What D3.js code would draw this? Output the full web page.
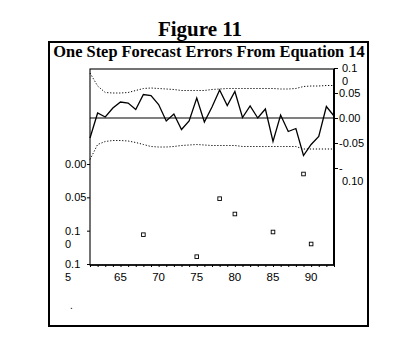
<!DOCTYPE html>
<html>
<head>
<meta charset="utf-8">
<script src="https://cdn.jsdelivr.net/npm/d3@7/dist/d3.min.js"></script>
<style>
  html, body { margin: 0; padding: 0; background: #fff; }
  svg { display: block; }
</style>
</head>
<body>
<svg id="chart" width="409" height="359"></svg>
<script>
// ---------------- data ----------------
const years = [61,62,63,64,65,66,67,68,69,70,71,72,73,74,75,76,77,78,79,80,81,82,83,84,85,86,87,88,89,90,91,92,93];
const residuals = [-0.040,0.010,0.002,0.020,0.032,0.030,0.017,0.047,0.045,0.027,-0.006,0.008,-0.023,-0.006,0.040,-0.008,0.022,0.056,0.025,0.053,0.001,0.024,0.000,0.018,-0.047,0.006,-0.027,-0.021,-0.075,-0.053,-0.037,0.023,0.004];
const upperBand = [0.090,0.064,0.051,0.050,0.050,0.051,0.055,0.059,0.060,0.059,0.058,0.057,0.055,0.055,0.055,0.055,0.057,0.058,0.059,0.059,0.059,0.059,0.059,0.059,0.059,0.058,0.058,0.059,0.063,0.064,0.064,0.065,0.065];
const lowerBand = [-0.083,-0.053,-0.047,-0.045,-0.045,-0.046,-0.049,-0.053,-0.057,-0.058,-0.058,-0.057,-0.055,-0.054,-0.053,-0.054,-0.055,-0.055,-0.055,-0.055,-0.057,-0.057,-0.057,-0.057,-0.057,-0.057,-0.057,-0.057,-0.062,-0.062,-0.062,-0.062,-0.062];
const probYears = [68,75,78,80,85,89,90];
const probValues = [0.106,0.139,0.052,0.075,0.102,0.015,0.120];
const xTicks = [65,70,75,80,85,90];
const rightTicks = [0.10,0.05,0.00,-0.05,-0.10];
const rightTickLabels = [["0.1","0"],["0.05"],["0.00"],["-0.05"],["-","0.10"]];
const leftTicks = [0.00,0.05,0.10,0.15];
const leftTickLabels = [["0.00"],["0.05"],["0.1","0"],["0.1","5"]];
const figureTitle = "Figure 11";
const chartTitle = "One Step Forecast Errors From Equation 14";

// ---------------- layout ----------------
const svg = d3.select("#chart");
const plot = {left: 90, right: 334, top: 69, bottom: 265};
const x = d3.scaleLinear().domain([61, 93]).range([plot.left, plot.right]);
const yRes = d3.scaleLinear().domain([0.10, -0.10]).range([68, 168]);
const yProb = d3.scaleLinear().domain([0, 0.15]).range([164, 264]);

const serif = "'Liberation Serif', 'Times New Roman', serif";
const sans = "'Liberation Sans', Arial, sans-serif";

// figure title
svg.append("text").attr("x", 200).attr("y", 36)
  .attr("text-anchor", "middle").attr("font-family", serif)
  .attr("font-weight", "bold").attr("font-size", 21).attr("fill", "#000")
  .text(figureTitle);

// outer box
svg.append("rect").attr("x", 49).attr("y", 42).attr("width", 319).attr("height", 284)
  .attr("fill", "none").attr("stroke", "#000").attr("stroke-width", 2);

// chart title
svg.append("text").attr("x", 209).attr("y", 57)
  .attr("text-anchor", "middle").attr("font-family", serif)
  .attr("font-weight", "bold").attr("font-size", 16.4).attr("fill", "#000")
  .text(chartTitle);

// plot frame
svg.append("rect").attr("x", plot.left).attr("y", plot.top)
  .attr("width", plot.right - plot.left).attr("height", plot.bottom - plot.top)
  .attr("fill", "none").attr("stroke", "#000").attr("stroke-width", 1.1);
svg.append("line").attr("x1", plot.right).attr("x2", plot.right)
  .attr("y1", plot.top).attr("y2", plot.bottom)
  .attr("stroke", "#000").attr("stroke-width", 2);
svg.append("line").attr("x1", plot.left).attr("x2", plot.right)
  .attr("y1", plot.bottom).attr("y2", plot.bottom)
  .attr("stroke", "#000").attr("stroke-width", 1.6);

// x axis
const xAxis = d3.axisBottom(x).tickValues(d3.range(61, 94)).tickSize(2).tickFormat("");
const gx = svg.append("g").attr("transform", `translate(0,${plot.bottom})`).call(xAxis);
gx.select(".domain").remove();
gx.selectAll("line").attr("stroke", "#000");
svg.append("g").selectAll("text").data(xTicks).join("text")
  .attr("x", d => x(d)).attr("y", 281)
  .attr("text-anchor", "middle").attr("font-family", sans).attr("font-size", 11.5)
  .attr("fill", "#000").text(d => d);

// right axis (residuals)
const rAxis = d3.axisRight(yRes).tickValues(rightTicks).tickSize(4).tickFormat("");
const gr = svg.append("g").attr("transform", `translate(${plot.right},0)`).call(rAxis);
gr.select(".domain").remove();
gr.selectAll("line").attr("stroke", "#000");
const rLab = svg.append("g").attr("font-family", sans).attr("font-size", 11).attr("fill", "#000");
rightTicks.forEach((t, i) => {
  const lines = rightTickLabels[i];
  const tx = rLab.append("text").attr("y", yRes(t)).attr("dy", "0.35em");
  lines.forEach((s, j) => {
    tx.append("tspan").attr("x", lines.length > 1 && j === 0 && s === "-" ? 339 : (lines.length > 1 ? 342 : 339))
      .attr("dy", j === 0 ? null : "1.15em").text(s);
  });
});

// left axis (probabilities)
const lAxis = d3.axisLeft(yProb).tickValues(leftTicks).tickSize(3).tickFormat("");
const gl = svg.append("g").attr("transform", `translate(${plot.left},0)`).call(lAxis);
gl.select(".domain").remove();
gl.selectAll("line").attr("stroke", "#000");
const lLab = svg.append("g").attr("font-family", sans).attr("font-size", 11).attr("fill", "#000");
leftTicks.forEach((t, i) => {
  const lines = leftTickLabels[i];
  const tx = lLab.append("text").attr("y", yProb(t)).attr("dy", "0.35em");
  lines.forEach((s, j) => {
    tx.append("tspan").attr("x", 65).attr("dy", j === 0 ? null : "1.2em").text(s);
  });
});

// zero line
svg.append("line").attr("x1", plot.left).attr("x2", plot.right)
  .attr("y1", yRes(0)).attr("y2", yRes(0))
  .attr("stroke", "#000").attr("stroke-width", 1.2);

// bands
const bandLine = arr => d3.line().x((d, i) => x(years[i])).y(d => yRes(d))(arr);
[upperBand, lowerBand].forEach(b => {
  svg.append("path").attr("d", bandLine(b)).attr("fill", "none")
    .attr("stroke", "#000").attr("stroke-width", 1).attr("stroke-dasharray", "1.2,1.8");
});

// residual line
svg.append("path").attr("d", bandLine(residuals)).attr("fill", "none")
  .attr("stroke", "#000").attr("stroke-width", 1.3).attr("stroke-linejoin", "miter");

// probability points
svg.append("g").selectAll("rect").data(probYears).join("rect")
  .attr("x", d => x(d) - 1.8).attr("y", (d, i) => yProb(probValues[i]) - 1.8)
  .attr("width", 3.6).attr("height", 3.6)
  .attr("fill", "#fff").attr("stroke", "#000").attr("stroke-width", 0.9);

// stray speck from the scan
svg.append("text").attr("x", 70).attr("y", 309).attr("font-family", sans)
  .attr("font-size", 10).attr("fill", "#000").text(".");
</script>
</body>
</html>
